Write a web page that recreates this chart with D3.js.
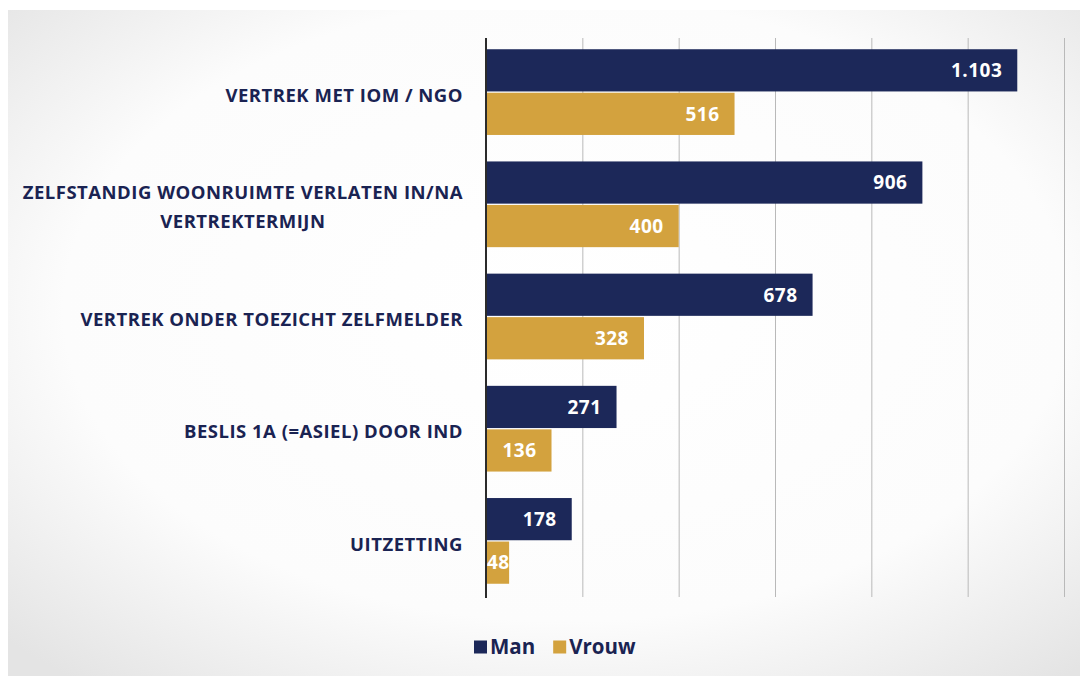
<!DOCTYPE html>
<html>
<head>
<meta charset="utf-8">
<script src="https://cdn.jsdelivr.net/npm/d3@7"></script>
<style>
  html, body { margin: 0; padding: 0; background: #ffffff; }
  svg { display: block; }
  .lbl { font-family: "Open Sans", Lato, sans-serif; font-weight: 700; }
</style>
</head>
<body>
<svg id="chart" width="1080" height="676"></svg>
<script>
// Return moves by type, split by sex
const categories = [
  "VERTREK MET IOM / NGO",
  "ZELFSTANDIG WOONRUIMTE VERLATEN IN/NA VERTREKTERMIJN",
  "VERTREK ONDER TOEZICHT ZELFMELDER",
  "BESLIS 1A (=ASIEL) DOOR IND",
  "UITZETTING"
];
const seriesNames = ["Man", "Vrouw"];
const manValues = [1103, 906, 678, 271, 178];
const vrouwValues = [516, 400, 328, 136, 48];
const xTicks = [0, 200, 400, 600, 800, 1000, 1200];

const W = 1080, H = 676;
const NAVY = "#1c2859";
const GOLD = "#d3a23e";
const TEXT = "#1a2352";

const svg = d3.select("#chart");

// Panel background: white centre fading to light grey edges
const defs = svg.append("defs");
const grad = defs.append("radialGradient")
  .attr("id", "panelBg").attr("cx", "52%").attr("cy", "45%").attr("r", "72%");
grad.append("stop").attr("offset", "0%").attr("stop-color", "#ffffff");
grad.append("stop").attr("offset", "65%").attr("stop-color", "#fcfcfc");
grad.append("stop").attr("offset", "100%").attr("stop-color", "#e4e4e4");
svg.append("rect").attr("x", 8).attr("y", 10).attr("width", W - 8).attr("height", H - 10)
  .attr("fill", "url(#panelBg)");

// Scales
const x = d3.scaleLinear().domain([0, 1200]).range([486, 1064]);
const y = d3.scaleBand().domain(categories).range([36, 597])
  .paddingInner(0.236).paddingOuter(0.118);
const ySub = d3.scaleBand().domain(seriesNames).range([0, y.bandwidth()]).paddingInner(0.03);
const color = d3.scaleOrdinal().domain(seriesNames).range([NAVY, GOLD]);

// Vertical gridlines
const grid = d3.axisBottom(x).tickValues(xTicks.slice(1)).tickSize(-(597 - 38)).tickFormat("");
svg.append("g").attr("transform", "translate(0,597)").call(grid)
  .call(g => g.select(".domain").remove())
  .call(g => g.selectAll(".tick line").attr("stroke", "#b9b9b9").attr("stroke-width", 1));

// Data rows
const rows = categories.map((c, i) => ({ cat: c, values: [
  { key: "Man", value: manValues[i] },
  { key: "Vrouw", value: vrouwValues[i] }
]}));

const fmt = d3.formatLocale({ decimal: ",", thousands: ".", grouping: [3], currency: ["€", ""] }).format(",d");

const group = svg.append("g").selectAll("g").data(rows).join("g")
  .attr("transform", d => `translate(0,${y(d.cat)})`);

group.selectAll("rect").data(d => d.values).join("rect")
  .attr("x", x(0))
  .attr("y", d => ySub(d.key))
  .attr("width", d => x(d.value) - x(0))
  .attr("height", ySub.bandwidth())
  .attr("fill", d => color(d.key));

// Value labels, inside the bar end
group.selectAll("text").data(d => d.values).join("text")
  .attr("class", "lbl")
  .attr("font-size", 19)
  .attr("letter-spacing", 0.5)
  .attr("fill", "#ffffff")
  .attr("text-anchor", "end")
  .attr("dy", "0.36em")
  .attr("y", d => ySub(d.key) + ySub.bandwidth() / 2)
  .text(d => fmt(d.value))
  .attr("x", function(d) {
    const w = this.getComputedTextLength();
    return Math.max(x(d.value) - 15, x(0) + w + 1);
  });

// Category axis line
svg.append("line").attr("x1", x(0)).attr("x2", x(0)).attr("y1", 38).attr("y2", 598)
  .attr("stroke", "#2b2b2b").attr("stroke-width", 2);

// Category labels, wrapped and right aligned
const maxLabelWidth = 460;
const labels = svg.append("g").selectAll("text").data(categories).join("text")
  .attr("class", "lbl")
  .attr("font-size", 18.5)
  .attr("letter-spacing", 0.5)
  .attr("fill", TEXT)
  .attr("text-anchor", "middle");

labels.each(function(c) {
  const t = d3.select(this);
  const words = c.split(" ");
  const lines = [];
  let line = [];
  const probe = t.append("tspan");
  words.forEach(w => {
    probe.text(line.concat(w).join(" "));
    if (probe.node().getComputedTextLength() > maxLabelWidth && line.length) {
      lines.push(line.join(" "));
      line = [w];
    } else {
      line.push(w);
    }
  });
  lines.push(line.join(" "));
  probe.remove();
  // widest line sets the right-aligned block
  const widths = lines.map(l => {
    const s = t.append("tspan").text(l);
    const wv = s.node().getComputedTextLength();
    s.remove();
    return wv;
  });
  const blockW = d3.max(widths);
  const cx = 463 - blockW / 2;
  const lh = 29;
  const cy = y(c) + y.bandwidth() / 2 + 3;
  lines.forEach((l, k) => {
    t.append("tspan").attr("x", cx)
      .attr("y", cy + (k - (lines.length - 1) / 2) * lh)
      .attr("dy", "0.36em").text(l);
  });
});

// Legend
const legend = svg.append("g").attr("transform", "translate(474,647)");
let lx = 0;
seriesNames.forEach(name => {
  const item = legend.append("g").attr("transform", `translate(${lx},0)`);
  item.append("rect").attr("x", 0).attr("y", -6.5).attr("width", 13).attr("height", 13).attr("fill", color(name));
  const tx = item.append("text").attr("class", "lbl").attr("x", 16).attr("dy", "0.36em")
    .attr("font-size", 20.5).attr("fill", TEXT).text(name);
  lx += 16 + tx.node().getComputedTextLength() + 18;
});
</script>
</body>
</html>
